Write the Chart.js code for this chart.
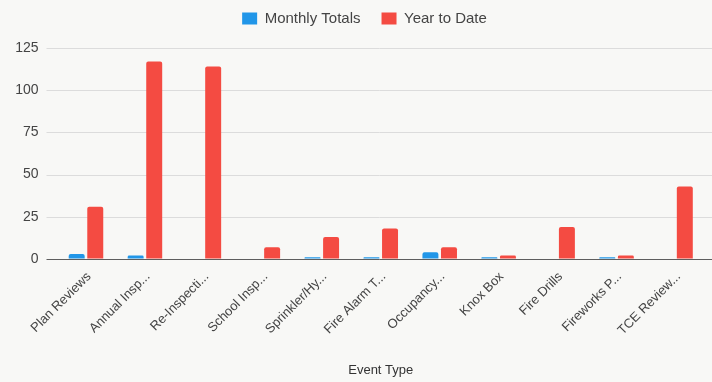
<!DOCTYPE html>
<html>
<head>
<meta charset="utf-8">
<script src="https://cdn.jsdelivr.net/npm/chart.js@4/dist/chart.umd.min.js"></script>
<style>
  html, body { margin: 0; padding: 0; background: #f8f8f6; }
  #wrap { width: 712px; height: 382px; position: relative; }
</style>
</head>
<body>
<div id="wrap"><canvas id="eventChart"></canvas></div>
<script>
// event categories (labels are shortened the same way the report shows them)
const eventTypes = [
  "Plan Reviews", "Annual Insp...", "Re-Inspecti...", "School Insp...",
  "Sprinkler/Hy...", "Fire Alarm T...", "Occupancy...", "Knox Box",
  "Fire Drills", "Fireworks P...", "TCE Review..."
];
const monthlyTotals = [3, 2, 0, 0, 1, 1, 4, 1, 0, 1, 0];
const yearToDate = [31, 117, 114, 7, 13, 18, 7, 2, 19, 2, 43];
const yTicks = [0, 25, 50, 75, 100, 125];

const TEXT = "#444";
const FONT = "Liberation Sans, Arial, sans-serif";

// horizontal grid running the full width, plus the darker zero line
const fullGrid = {
  id: "fullGrid",
  beforeDatasetsDraw(chart) {
    const { ctx, chartArea, scales } = chart;
    const y = scales.y;
    const left = chartArea.left - 10;
    const right = chart.width;
    ctx.save();
    ctx.lineWidth = 1;
    yTicks.forEach(v => {
      const py = Math.round(y.getPixelForValue(v)) + 0.5;
      ctx.strokeStyle = v === 0 ? "#5e5e5e" : "#dcdcdc";
      ctx.beginPath();
      ctx.moveTo(left, py);
      ctx.lineTo(right, py);
      ctx.stroke();
    });
    ctx.restore();
  }
};

// extra room under the legend, and legend nudged a bit to the right
const legendSpacing = {
  id: "legendSpacing",
  beforeLayout(chart) {
    const lg = chart.legend;
    if (!lg || lg._spaced) return;
    const fit = lg.fit;
    lg.fit = function () {
      fit.call(this);
      this.height += 12;
    };
    lg._spaced = true;
  },
  afterLayout(chart) {
    const lg = chart.legend;
    if (!lg) return;
    lg.left += 12;
    lg.right += 12;
  }
};

new Chart(document.getElementById("eventChart"), {
  type: "bar",
  data: {
    labels: eventTypes,
    datasets: [
      {
        label: "Monthly Totals",
        data: monthlyTotals,
        backgroundColor: "#2196e8",
        borderRadius: 2,
        borderSkipped: "bottom"
      },
      {
        label: "Year to Date",
        data: yearToDate,
        backgroundColor: "#f44b42",
        borderRadius: 2,
        borderSkipped: "bottom"
      }
    ]
  },
  options: {
    responsive: true,
    maintainAspectRatio: false,
    animation: false,
    categoryPercentage: 0.63,
    barPercentage: 0.86,
    // negative top pad lets the wide legend padding sit close to the top edge
    layout: { padding: { top: -10, right: 7, bottom: 4, left: 0 } },
    plugins: {
      legend: {
        position: "top",
        labels: {
          boxWidth: 15,
          boxHeight: 12,
          padding: 21,
          color: TEXT,
          font: { family: FONT, size: 15 }
        }
      },
      tooltip: { enabled: false }
    },
    scales: {
      x: {
        afterFit(scale) { scale.height = 119; },
        grid: { display: false },
        border: { display: false },
        ticks: {
          color: TEXT,
          font: { family: FONT, size: 13 },
          minRotation: 45,
          maxRotation: 45,
          autoSkip: false,
          padding: 2,
          labelOffset: 3
        },
        title: {
          display: true,
          text: "Event Type",
          color: "#333",
          font: { family: FONT, size: 13 },
          padding: { top: 6, bottom: 0 }
        }
      },
      y: {
        min: 0,
        max: 125,
        afterFit(scale) { scale.width = 56.5; },
        grid: { drawOnChartArea: false, drawTicks: false },
        border: { display: false },
        ticks: {
          stepSize: 25,
          padding: 18,
          color: TEXT,
          font: { family: FONT, size: 14 }
        }
      }
    }
  },
  plugins: [fullGrid, legendSpacing]
});
</script>
</body>
</html>
